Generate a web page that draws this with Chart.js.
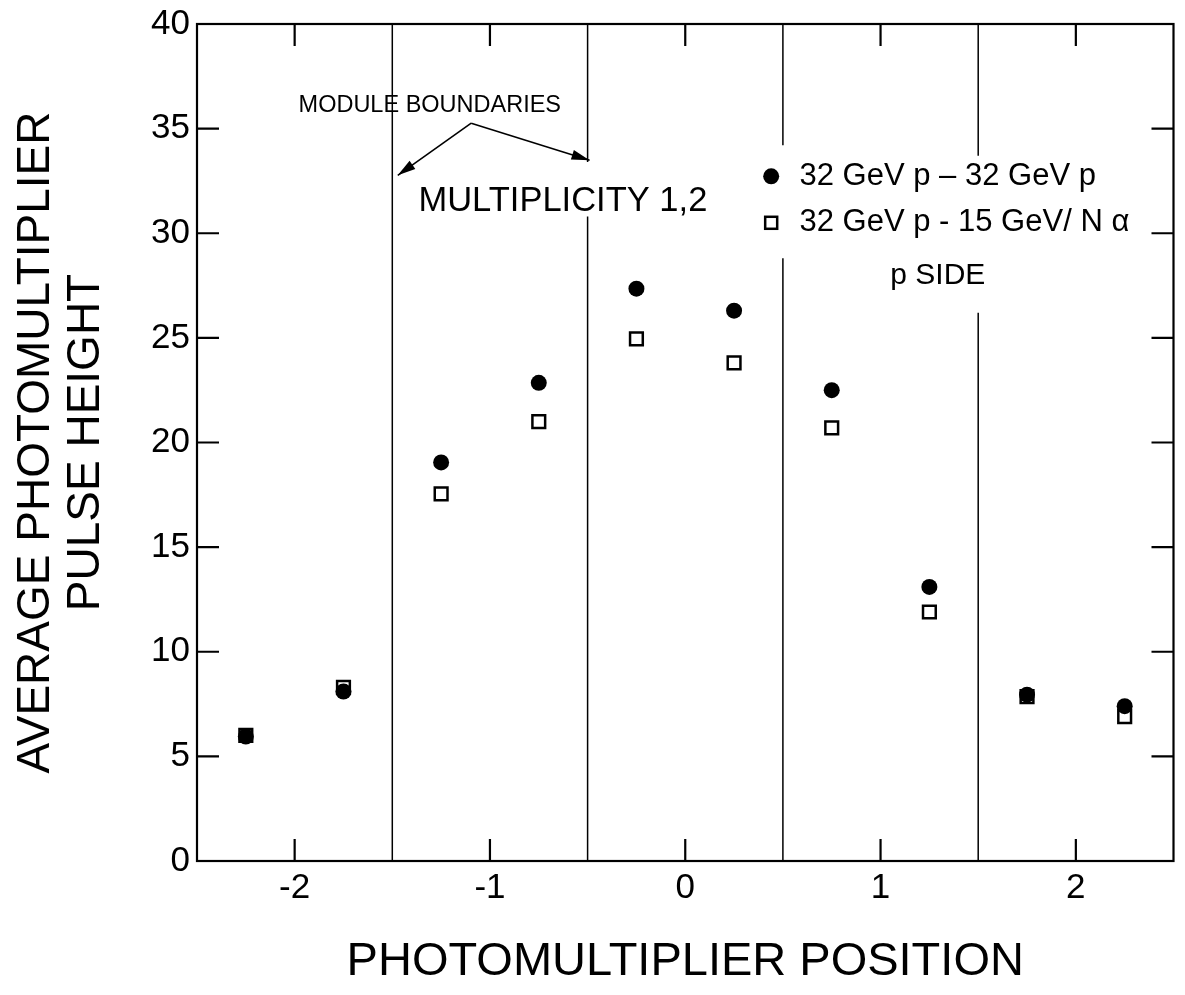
<!DOCTYPE html>
<html><head><meta charset="utf-8">
<script src="https://cdn.jsdelivr.net/npm/chart.js@4.4.1/dist/chart.umd.min.js"></script>
<style>html,body{margin:0;padding:0;background:#fff;overflow:hidden}#wrap{width:1185px;height:995px;position:relative}canvas{display:block}</style>
</head><body><div id="wrap"><canvas id="c"></canvas></div>
<script>
// ---- data ----
const positions = [-2.25, -1.75, -1.25, -0.75, -0.25, 0.25, 0.75, 1.25, 1.75, 2.25];
const ppValues  = [5.95, 8.1, 19.05, 22.85, 27.35, 26.3, 22.5, 13.1, 7.95, 7.4];
const paValues  = [6.0, 8.3, 17.55, 21.0, 24.95, 23.8, 20.7, 11.9, 7.85, 6.9];
const seriesLabels = ['32 GeV p \u2013 32 GeV p', '32 GeV p - 15 GeV/ N \u03b1'];
const xTicks = [-2, -1, 0, 1, 2];
const yTicks = [0, 5, 10, 15, 20, 25, 30, 35, 40];
const boundaries = [-1.5, -0.5, 0.5, 1.5];
const boundaryGaps = [null, [30.8, 33.4], [28.8, 34.2], [26.2, 33.7]];
const notes = [
  {text: 'MODULE BOUNDARIES', x: -1.98, y: 36.1, size: 23.5},
  {text: 'MULTIPLICITY 1,2', x: -1.366, y: 31.5, size: 34.5},
  {text: 'p SIDE', x: 1.05, y: 27.95, size: 30}
];
const arrowFrom = {x: -1.096, y: 35.26};
const arrowTo = [{x: -1.472, y: 32.77}, {x: -0.49, y: 33.49}];
const legendMarkX = 0.44, legendTextX = 0.585, legendY = [32.72, 30.5];

const FONT = '"Liberation Sans", Arial, sans-serif';

const decor = {
  id: 'decor',
  beforeDatasetsDraw(chart) {
    const {ctx, chartArea: a, scales: {x, y}} = chart;
    ctx.save();
    ctx.strokeStyle = '#000';
    ctx.lineWidth = 1.5;
    boundaries.forEach((b, i) => {
      const px = x.getPixelForValue(b);
      const g = boundaryGaps[i];
      ctx.beginPath();
      if (!g) { ctx.moveTo(px, a.top); ctx.lineTo(px, a.bottom); }
      else {
        ctx.moveTo(px, a.top); ctx.lineTo(px, y.getPixelForValue(g[1]));
        ctx.moveTo(px, y.getPixelForValue(g[0])); ctx.lineTo(px, a.bottom);
      }
      ctx.stroke();
    });
    ctx.lineWidth = 2.2;
    ctx.strokeRect(a.left, a.top, a.right - a.left, a.bottom - a.top);
    const L = 22;
    ctx.beginPath();
    xTicks.forEach(v => {
      const px = x.getPixelForValue(v);
      ctx.moveTo(px, a.bottom); ctx.lineTo(px, a.bottom - L);
      ctx.moveTo(px, a.top); ctx.lineTo(px, a.top + L);
    });
    yTicks.forEach(v => {
      const py = y.getPixelForValue(v);
      ctx.moveTo(a.left, py); ctx.lineTo(a.left + L, py);
      ctx.moveTo(a.right, py); ctx.lineTo(a.right - L, py);
    });
    ctx.stroke();
    ctx.restore();
  },
  afterDraw(chart) {
    const {ctx, scales: {x, y}} = chart;
    ctx.save();
    ctx.fillStyle = '#000'; ctx.strokeStyle = '#000';
    ctx.textAlign = 'left'; ctx.textBaseline = 'middle';
    notes.forEach(n => {
      ctx.font = n.size + 'px ' + FONT;
      ctx.fillText(n.text, x.getPixelForValue(n.x), y.getPixelForValue(n.y));
    });
    // arrows
    const sx = x.getPixelForValue(arrowFrom.x), sy = y.getPixelForValue(arrowFrom.y);
    ctx.lineWidth = 1.6;
    arrowTo.forEach(t => {
      const ex = x.getPixelForValue(t.x), ey = y.getPixelForValue(t.y);
      ctx.beginPath(); ctx.moveTo(sx, sy); ctx.lineTo(ex, ey); ctx.stroke();
      const ang = Math.atan2(ey - sy, ex - sx), len = 18, hw = 5;
      const bx = ex - len * Math.cos(ang), by = ey - len * Math.sin(ang);
      ctx.beginPath();
      ctx.moveTo(ex, ey);
      ctx.lineTo(bx + hw * Math.sin(ang), by - hw * Math.cos(ang));
      ctx.lineTo(bx - hw * Math.sin(ang), by + hw * Math.cos(ang));
      ctx.closePath(); ctx.fill();
    });
    // legend
    const mx = x.getPixelForValue(legendMarkX);
    ctx.font = '31px ' + FONT;
    const y0 = y.getPixelForValue(legendY[0]);
    ctx.beginPath(); ctx.arc(mx, y0, 8, 0, Math.PI * 2); ctx.fill();
    ctx.fillText(seriesLabels[0], x.getPixelForValue(legendTextX), y0);
    const y1 = y.getPixelForValue(legendY[1]);
    ctx.lineWidth = 2.5;
    ctx.strokeRect(mx - 6, y1 - 6, 12, 12);
    ctx.fillText(seriesLabels[1], x.getPixelForValue(legendTextX), y1);
    ctx.restore();
  }
};

new Chart(document.getElementById('c'), {
  type: 'scatter',
  data: {
    datasets: [
      {
        label: seriesLabels[0],
        data: positions.map((p, i) => ({x: p, y: ppValues[i]})),
        pointStyle: 'circle', pointRadius: 8, pointHoverRadius: 8,
        backgroundColor: '#000', borderColor: '#000', borderWidth: 0
      },
      {
        label: seriesLabels[1],
        data: positions.map((p, i) => ({x: p, y: paValues[i]})),
        pointStyle: 'rect', pointRadius: 9, pointHoverRadius: 9,
        backgroundColor: '#fff', borderColor: '#000', borderWidth: 2.5
      }
    ]
  },
  options: {
    responsive: true, maintainAspectRatio: false, animation: false,
    layout: {padding: {left: 0, right: 5, top: 24, bottom: 0}},
    plugins: {legend: {display: false}, tooltip: {enabled: false}},
    scales: {
      x: {
        type: 'linear', min: -2.5, max: 2.5,
        afterBuildTicks: s => { s.ticks = xTicks.map(v => ({value: v})); },
        afterFit: s => { s.height = 134; s.paddingLeft = 0; s.paddingRight = 0; },
        grid: {display: false, drawTicks: false},
        border: {display: false},
        ticks: {color: '#000', font: {family: FONT, size: 35}, padding: 6,
                callback: v => String(v)},
        title: {display: true, text: 'PHOTOMULTIPLIER POSITION', color: '#000',
                font: {family: FONT, size: 47, lineHeight: 1}, padding: {top: 0, bottom: 9}}
      },
      y: {
        type: 'linear', min: 0, max: 40,
        afterBuildTicks: s => { s.ticks = yTicks.map(v => ({value: v})); },
        afterFit: s => { s.width = 197; s.paddingTop = 0; s.paddingBottom = 0; },
        grid: {display: false, drawTicks: false},
        border: {display: false},
        ticks: {color: '#000', font: {family: FONT, size: 35}, padding: 7},
        title: {display: true, text: ['AVERAGE PHOTOMULTIPLIER', 'PULSE HEIGHT'], color: '#000',
                font: {family: FONT, size: 46, lineHeight: 1.087}, padding: {top: 11, bottom: 0}}
      }
    }
  },
  plugins: [decor]
});
</script></body></html>
